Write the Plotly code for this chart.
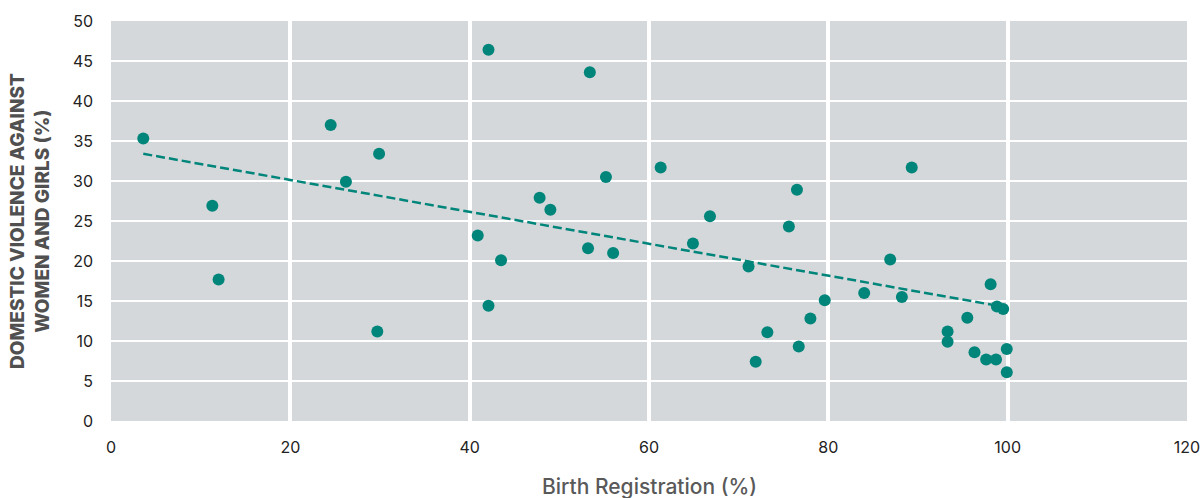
import plotly.graph_objects as go

# birth registration (%) and domestic violence (%) per country
birth_reg = [3.6, 11.3, 12.0, 24.5, 26.2, 29.9, 29.7, 42.1, 40.9, 42.1,
             43.5, 47.8, 49.0, 53.4, 53.2, 55.2, 56.0, 61.3, 64.9, 66.8,
             71.1, 71.9, 73.2, 75.6, 76.5, 76.7, 78.0, 79.6, 84.0, 86.9,
             88.2, 89.3, 93.3, 93.3, 95.5, 96.3, 98.1, 97.6, 98.7, 98.8,
             99.5, 99.9, 99.9]
violence = [35.3, 26.9, 17.7, 37.0, 29.9, 33.4, 11.2, 46.4, 23.2, 14.4,
            20.1, 27.9, 26.4, 43.6, 21.6, 30.5, 21.0, 31.7, 22.2, 25.6,
            19.3, 7.4, 11.1, 24.3, 28.9, 9.3, 12.8, 15.1, 16.0, 20.2,
            15.5, 31.7, 11.2, 9.9, 12.9, 8.6, 17.1, 7.7, 7.7, 14.3,
            14.0, 9.0, 6.1]

# trend line end points
trend_x = [3.6, 98.9]
trend_y = [33.4, 14.4]

teal = "#00857a"

fig = go.Figure()
fig.add_scatter(x=trend_x, y=trend_y, mode="lines",
                line=dict(color=teal, width=2.5, dash="9px,4px"),
                hoverinfo="skip", showlegend=False)
fig.add_scatter(x=birth_reg, y=violence, mode="markers",
                marker=dict(color=teal, size=12),
                showlegend=False)

fig.update_layout(
    width=1201, height=498,
    margin=dict(l=111, r=14, t=21, b=77),
    plot_bgcolor="#d5d8db",
    paper_bgcolor="white",
    font=dict(family="Inter", size=16, color="#222222"),
    xaxis=dict(range=[0, 120], dtick=20, showgrid=True, gridcolor="white",
               gridwidth=4, zeroline=False, ticks="", ticklabelstandoff=15,
               showline=False, automargin=False),
    yaxis=dict(range=[0, 50], dtick=5, showgrid=True, gridcolor="white",
               gridwidth=2, zeroline=False, ticks="", ticklabelstandoff=17,
               showline=False, automargin=False),
    annotations=[
        dict(text="DOMESTIC VIOLENCE AGAINST<br>WOMEN AND GIRLS (%)",
             xref="paper", yref="paper", x=0, y=0.5, xshift=-81,
             xanchor="center", yanchor="middle", textangle=-90,
             showarrow=False,
             font=dict(family="Inter", size=19, color="#505050", weight=800)),
        dict(text="Birth Registration (%)",
             xref="paper", yref="paper", x=0.5, y=0, yshift=-65,
             xanchor="center", yanchor="middle", showarrow=False,
             font=dict(family="Inter", size=21, color="#595959", weight=500)),
    ],
)

fig.write_html("out.html", config={"displayModeBar": False},
               post_script="document.body.style.margin='0';")
